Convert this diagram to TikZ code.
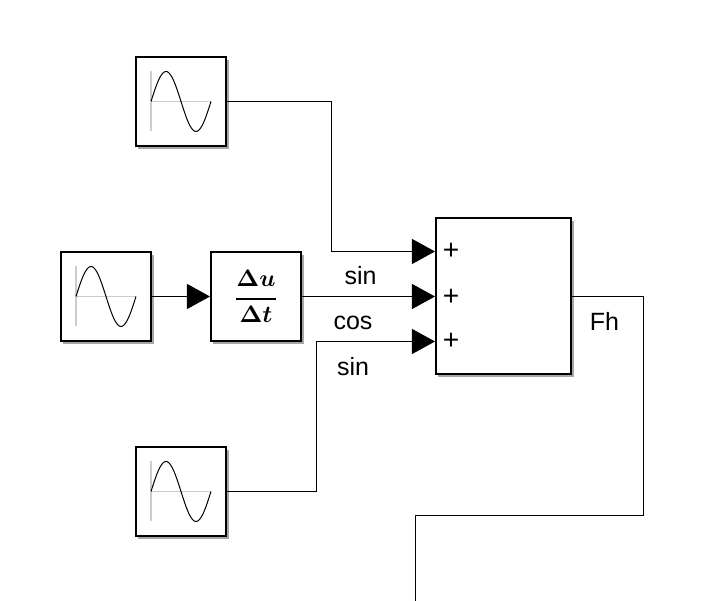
\documentclass[tikz,border=0pt]{standalone}
\usepackage{fontspec}
\setmainfont{Liberation Sans}
\usepackage{amsmath,amssymb}
\usetikzlibrary{arrows.meta,shadows}
\tikzset{
  block/.style={rectangle,draw,fill=white,line width=0.02cm,inner sep=0pt,
    drop shadow={shadow xshift=0.025cm,shadow yshift=-0.03cm,opacity=0.7}},
  srcblock/.style={block,minimum width=0.9cm,minimum height=0.885cm},
  wire/.style={line width=0.012cm},
  port/.style={wire,-{Triangle[length=0.23cm,width=0.25cm]}},
  lbl/.style={inner sep=0pt,anchor=base,font=\fontsize{7.1pt}{8pt}\selectfont},
  plusmark/.style={inner sep=0pt,font=\fontsize{8pt}{9pt}\selectfont},
  sinewave/.pic={
    \draw[black!20,line width=0.014cm] (-30,-30) -- (-30,30) (-30,0) -- (30,0);
    \draw[line width=0.01cm,domain=0:60,samples=50,smooth] plot ({\x-30},{-30*sin(6*\x)});
  }
}

\begin{document}
\begin{tikzpicture}[x=0.01cm,y=-0.01cm]
    \useasboundingbox (0,0) rectangle (703,601);
    \node at (181, 101.5) [srcblock] (sineTop) {};
    \node at (106, 296.5) [srcblock] (sineMid) {};
    \node at (181, 491.5) [srcblock] (sineBot) {};
    \node at (256, 296.5) [srcblock, align=center] (diff) {\scalebox{0.68}{\boldmath$\displaystyle\genfrac{}{}{0.9pt}{0}{\Delta u}{\Delta t}$}};
    \node at (503.5, 296) [block, minimum width=1.35cm, minimum height=1.56cm] (sum) {};
    \pic at (sineTop) {sinewave};
    \pic at (sineMid) {sinewave};
    \pic at (sineBot) {sinewave};

    \coordinate (port1) at (sum.west |- 0,251.5);
    \coordinate (port2) at (sum.west |- 0,296.5);
    \coordinate (port3) at (sum.west |- 0,341.5);
    \coordinate (sumOut) at (sum.east |- 0,296.5);
    \coordinate (bottomEnd) at (415.5, 601);

    \node at (451, 251.7) [plusmark] (plus1) {+};
    \node at (451, 297) [plusmark] (plus2) {+};
    \node at (451, 341.5) [plusmark] (plus3) {+};
    \node at (360.5, 285) [lbl] (sinUp) {sin};
    \node at (353, 330) [lbl] (cosMid) {cos};
    \node at (353, 376) [lbl] (sinLow) {sin};
    \node at (604.5, 331) [lbl] (fh) {Fh};

    \draw[port] (sineMid.east) -- (diff.west);
    \draw[port] (diff.east) -- (port2);
    \draw[port] (sineTop.east) -- (331.5, 101.5) -- (331.5, 251.5) -- (port1);
    \draw[port] (sineBot.east) -- (316.5, 491.5) -- (316.5, 341.5) -- (port3);
    \draw[wire] (sumOut) -- (643.5, 296.5) -- (643.5, 515.5) -- (415.5, 515.5) -- (bottomEnd);

\end{tikzpicture}
\end{document}
